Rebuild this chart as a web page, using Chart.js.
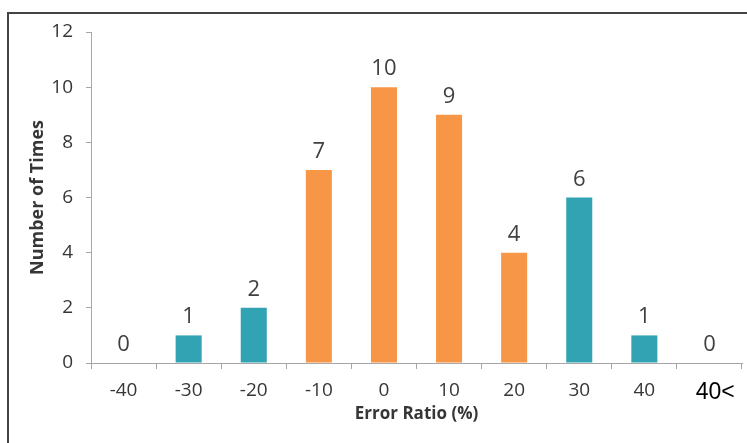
<!DOCTYPE html>
<html>
<head>
<meta charset="utf-8">
<script src="https://cdn.jsdelivr.net/npm/chart.js@4/dist/chart.umd.min.js"></script>
<style>
  html, body { margin: 0; padding: 0; background: #fff; overflow: hidden; }
</style>
</head>
<body>
<canvas id="errorChart" width="747" height="443"></canvas>
<script>
// Error ratio histogram
const categories = ['-40', '-30', '-20', '-10', '0', '10', '20', '30', '40', '40<'];
const counts = [0, 1, 2, 7, 10, 9, 4, 6, 1, 0];
const highlight = [false, false, false, true, true, true, true, false, false, false];
const yTicks = [0, 2, 4, 6, 8, 10, 12];

const TEAL = '#31a3b3';
const ORANGE = '#f79646';
const TEXT = '#363636';
const AXIS = '#a6a6a6';
const FONT = '"Open Sans", "Noto Sans", sans-serif';

// outer frame (only the top and left edges fall inside the canvas)
const frame = {
    id: 'frame',
    beforeDraw(chart) {
        const ctx = chart.ctx;
        ctx.save();
        ctx.strokeStyle = '#444';
        ctx.lineWidth = 2;
        ctx.beginPath();
        ctx.moveTo(8, chart.height + 2);
        ctx.lineTo(8, 13);
        ctx.lineTo(chart.width + 2, 13);
        ctx.stroke();
        ctx.restore();
    }
};

// value labels above each bar
const barValues = {
    id: 'barValues',
    afterDatasetsDraw(chart) {
        const ctx = chart.ctx;
        const meta = chart.getDatasetMeta(0);
        ctx.save();
        ctx.font = '22px ' + FONT;
        ctx.fillStyle = '#404040';
        ctx.textAlign = 'center';
        ctx.textBaseline = 'alphabetic';
        meta.data.forEach((bar, i) => {
            ctx.fillText(String(counts[i]), bar.x, bar.y - 12);
        });
        ctx.restore();
    }
};

const lastIndex = categories.length - 1;

new Chart(document.getElementById('errorChart'), {
    type: 'bar',
    data: {
        labels: categories,
        datasets: [{
            data: counts,
            backgroundColor: highlight.map(h => h ? ORANGE : TEAL),
            barPercentage: 0.4,
            categoryPercentage: 1.0
        }]
    },
    options: {
        responsive: false,
        animation: false,
        devicePixelRatio: 1,
        layout: { padding: { top: 32, right: 5, left: 0, bottom: 0 } },
        plugins: {
            legend: { display: false },
            tooltip: { enabled: false }
        },
        scales: {
            x: {
                afterFit(scale) { scale.height = 80; },
                grid: {
                    drawOnChartArea: false,
                    tickLength: 6,
                    color: AXIS
                },
                border: { display: true, color: AXIS, width: 1 },
                ticks: {
                    padding: 10,
                    maxRotation: 0,
                    // the open-ended bin is set a little to the right
                    callback: (value, i) => i === lastIndex ? '\u2002' + categories[i] : categories[i],
                    font: ctx => ctx.index === lastIndex
                        ? { family: '"Liberation Sans", Arial, sans-serif', size: 23 }
                        : { family: FONT, size: 19 },
                    color: ctx => ctx.index === lastIndex ? '#000' : TEXT
                },
                title: {
                    display: true,
                    text: 'Error Ratio (%)',
                    color: TEXT,
                    font: { family: FONT, size: 17, weight: 'bold' },
                    padding: { top: 0, bottom: 19 }
                }
            },
            y: {
                min: 0,
                max: 12,
                afterFit(scale) { scale.width = 91; },
                afterBuildTicks(scale) {
                    scale.ticks = yTicks.map(v => ({ value: v }));
                },
                grid: {
                    drawOnChartArea: false,
                    tickLength: 5,
                    color: AXIS
                },
                border: { display: true, color: AXIS, width: 1 },
                ticks: {
                    padding: 13,
                    color: TEXT,
                    font: { family: FONT, size: 19 }
                },
                title: {
                    display: true,
                    text: 'Number of Times',
                    color: TEXT,
                    font: { family: FONT, size: 18, weight: 'bold' },
                    padding: { top: 27, bottom: 0 }
                }
            }
        }
    },
    plugins: [frame, barValues]
});
</script>
</body>
</html>
